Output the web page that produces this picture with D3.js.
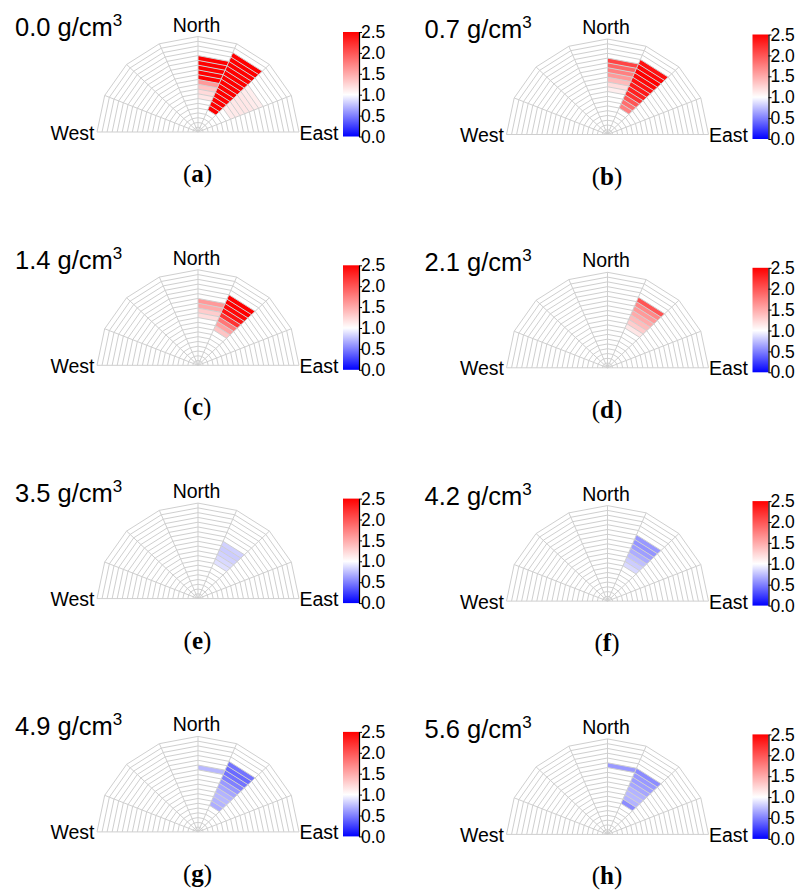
<!DOCTYPE html>
<html>
<head>
<meta charset="utf-8">
<script src="https://cdn.jsdelivr.net/npm/d3@7"></script>
<style>
  body { margin: 0; background: #fff; }
  svg { display: block; }
  text { font-family: "Liberation Sans", Arial, sans-serif; }
</style>
</head>
<body>
<div id="container"></div>
<script>
// density of each panel and its caption letter
const densities = ["0.0", "0.7", "1.4", "2.1", "3.5", "4.2", "4.9", "5.6"];
const captions = ["a", "b", "c", "d", "e", "f", "g", "h"];
const directions = ["West", "North", "East"];
const colorTicks = [0, 0.5, 1.0, 1.5, 2.0, 2.5];

// each entry: [sector (0 = N..NNE, 1 = NNE..NE, 2 = NE..ENE), first ring, values outward]
const panelA = [
    [0, 7, [1.15, 1.22, 1.35, 1.6, 2.5, 2.5, 2.5, 2.5, 2.5]],
    [1, 5, [2.5, 2.5, 2.5, 2.5, 2.5, 2.5, 2.5, 2.5, 2.5, 2.5, 2.5, 2.5, 2.5]],
    [2, 7, [1.12, 1.13, 1.14, 1.15, 1.14, 1.12, 1.1]]
];
const panelB = [
    [0, 9, [1.1, 1.2, 1.4, 1.6, 1.75, 1.9, 2.1]],
    [1, 6, [1.75, 1.85, 2.0, 2.2, 2.3, 2.35, 2.4, 2.45, 2.5, 2.45, 2.4]]
];
const panelC = [
    [0, 10, [1.2, 1.3, 1.5, 1.6]],
    [1, 8, [1.35, 1.55, 1.8, 2.2, 2.4, 2.45, 2.5, 2.5]]
];
const panelD = [
    [1, 9, [1.15, 1.3, 1.4, 1.5, 1.6, 1.7, 2.0]]
];
const panelE = [
    [1, 8, [0.88, 0.85, 0.82, 0.8, 0.82]]
];
const panelF = [
    [1, 8, [0.85, 0.8, 0.75, 0.68, 0.62, 0.58, 0.6]]
];
const panelG = [
    [0, 13, [0.72]],
    [1, 6, [0.68, 0.7, 0.72, 0.7, 0.65, 0.6, 0.5, 0.45, 0.42, 0.45]]
];
const panelH = [
    [0, 14, [0.6]],
    [1, 7, [0.55, 0.7, 0.72, 0.7, 0.65, 0.62, 0.6, 0.55]]
];
const panels = [panelA, panelB, panelC, panelD, panelE, panelF, panelG, panelH];

const w = 797;
const h = 890;
const nRings = 20;
const nSpokes = 8;        // 8 sectors over the half circle
const sectorDeg = 180 / nSpokes;

const color = d3.scaleLinear()
    .domain([0, 1, 2.5])
    .range(["#0000ff", "#ffffff", "#ff0000"]);

const svg = d3.select("#container").append("svg")
    .attr("width", w)
    .attr("height", h);

const defs = svg.append("defs");
const grad = defs.append("linearGradient")
    .attr("id", "cbar")
    .attr("x1", 0).attr("y1", 1).attr("x2", 0).attr("y2", 0);
d3.range(0, 2.51, 0.125).forEach((v) => {
    grad.append("stop")
        .attr("offset", v / 2.5)
        .attr("stop-color", color(v));
});

const rScale = d3.scaleLinear().domain([0, nRings]).range([0, 1]);
const toRad = (deg) => deg * Math.PI / 180;

const drawPanel = (idx) => {
    const col = idx % 2;
    const row = Math.floor(idx / 2);
    const g = svg.append("g")
        .attr("transform", "translate(" + (col * 409.5) + "," + (row * 233.3 + col * 2.5) + ")");

    const cx = 198, cy = 132, rx = 101, ry = 95.5;
    const xs = d3.scaleLinear().domain([-1, 1]).range([cx - rx, cx + rx]);
    const ys = d3.scaleLinear().domain([0, 1]).range([cy, cy - ry]);
    const pt = (ring, deg) => {
        const r = rScale(ring);
        return [xs(r * Math.sin(toRad(deg))), ys(r * Math.cos(toRad(deg)))];
    };
    const line = d3.line();

    // cells
    const cells = [];
    panels[idx].forEach(([sector, first, values]) => {
        values.forEach((v, i) => cells.push({ sector: sector, ring: first + i, value: v }));
    });
    g.selectAll(".cell").data(cells)
        .enter()
        .append("path")
        .attr("class", "cell")
        .attr("d", (d) => {
            const a0 = d.sector * sectorDeg, a1 = (d.sector + 1) * sectorDeg;
            return line([pt(d.ring, a0), pt(d.ring + 1, a0), pt(d.ring + 1, a1), pt(d.ring, a1)]) + "Z";
        })
        .style("fill", (d) => color(d.value))
        .style("stroke", "none");

    // polygonal rings
    const spokeAngles = d3.range(-90, 90.01, sectorDeg);
    g.selectAll(".ring").data(d3.range(1, nRings + 1))
        .enter()
        .append("path")
        .attr("class", "ring")
        .attr("d", (k) => line(spokeAngles.map((a) => pt(k, a))))
        .style("fill", "none")
        .style("stroke", "#cfcfcf")
        .style("stroke-width", 1);

    g.selectAll(".spoke").data(spokeAngles)
        .enter()
        .append("path")
        .attr("class", "spoke")
        .attr("d", (a) => line([pt(0, a), pt(nRings, a)]))
        .style("stroke", "#cfcfcf")
        .style("stroke-width", 1);

    // direction labels
    g.append("text").attr("x", 94.5).attr("y", 139.5)
        .attr("text-anchor", "end").style("font-size", "19.5px").text(directions[0]);
    g.append("text").attr("x", cx - 1.5).attr("y", 31.5)
        .attr("text-anchor", "middle").style("font-size", "19.5px").text(directions[1]);
    g.append("text").attr("x", 299.5).attr("y", 139.5)
        .style("font-size", "19.5px").text(directions[2]);

    // title
    const title = g.append("text").attr("x", 15).attr("y", 35.5).style("font-size", "25.5px");
    title.append("tspan").text(densities[idx] + " g/cm");
    title.append("tspan").attr("dy", -10).style("font-size", "17px").text("3");

    // colour bar
    const cbX = 343, cbTop = 32, cbBottom = 136.5, cbW = 16;
    g.append("rect")
        .attr("x", cbX).attr("y", cbTop)
        .attr("width", cbW).attr("height", cbBottom - cbTop)
        .style("fill", "url(#cbar)");
    const cScale = d3.scaleLinear().domain([0, 2.5]).range([cbBottom, cbTop]);
    const cAxis = d3.axisRight(cScale)
        .tickValues(colorTicks)
        .tickFormat(d3.format(".1f"))
        .tickSize(3)
        .tickSizeOuter(0);
    const ax = g.append("g")
        .attr("transform", "translate(" + (cbX + cbW) + ",0)")
        .call(cAxis);
    ax.selectAll("text")
        .attr("x", 2)
        .style("font-family", "'Liberation Sans', Arial, sans-serif")
        .style("font-size", "17.5px")
        .style("fill", "#000");
    ax.select(".domain").style("stroke", "#000").style("stroke-width", 1.2);
    ax.selectAll(".tick line").style("stroke", "#000");

    // caption
    const cap = g.append("text")
        .attr("x", 197.5).attr("y", 182)
        .attr("text-anchor", "middle")
        .style("font-family", "'Liberation Serif', 'DejaVu Serif', serif")
        .style("font-size", "25px");
    cap.append("tspan").text("(");
    cap.append("tspan").style("font-weight", "bold").text(captions[idx]);
    cap.append("tspan").text(")");
};

panels.forEach((p, i) => drawPanel(i));
</script>
</body>
</html>
